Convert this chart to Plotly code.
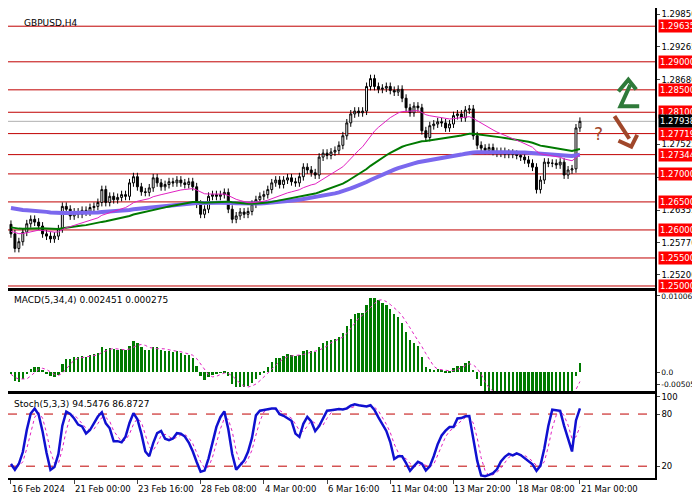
import numpy as np
import pandas as pd
import plotly.graph_objects as go

closes = [1.2593,1.2567,1.2579,1.2596,1.2611,1.2619,1.2614,1.2607,1.2593,1.2589,
1.2584,1.2589,1.2602,1.2642,1.2637,1.2625,1.2632,1.2628,1.2635,1.2632,
1.2640,1.2642,1.2649,1.2672,1.2649,1.2660,1.2654,1.2658,1.2663,1.2660,
1.2684,1.2695,1.2677,1.2668,1.2667,1.2675,1.2693,1.2684,1.2677,1.2681,
1.2686,1.2684,1.2689,1.2684,1.2681,1.2686,1.2677,1.2646,1.2628,1.2637,
1.2660,1.2663,1.2660,1.2663,1.2667,1.2637,1.2619,1.2625,1.2632,1.2628,
1.2633,1.2646,1.2654,1.2660,1.2663,1.2672,1.2684,1.2689,1.2681,1.2689,
1.2693,1.2686,1.2684,1.2695,1.2712,1.2707,1.2702,1.2698,1.2730,1.2737,
1.2733,1.2739,1.2742,1.2751,1.2768,1.2791,1.2807,1.2812,1.2809,1.2812,
1.2856,1.2870,1.2856,1.2851,1.2853,1.2856,1.2849,1.2846,1.2851,1.2835,
1.2818,1.2809,1.2821,1.2818,1.2777,1.2765,1.2786,1.2789,1.2793,1.2791,
1.2782,1.2789,1.2804,1.2807,1.2800,1.2814,1.2816,1.2768,1.2751,1.2746,
1.2742,1.2747,1.2740,1.2737,1.2740,1.2735,1.2737,1.2735,1.2733,1.2730,
1.2725,1.2719,1.2712,1.2672,1.2689,1.2721,1.2719,1.2719,1.2716,1.2721,
1.2698,1.2707,1.2709,1.2782,1.27938]
first_open = 1.2610
wick_up = 0.0007
wick_dn = 0.0007
levels = [1.29635,1.29000,1.28500,1.28100,1.27719,1.27344,1.27000,1.26500,1.26000,1.25500,1.25000]
price_ticks = [1.29850,1.29265,1.28680,1.27525,1.26940,1.26355,1.25770,1.25200]
current = 1.27938
date_idx = [0,16,32,48,64,80,96,112,128,144]
date_labels = ["16 Feb 2024","21 Feb 00:00","23 Feb 16:00","28 Feb 08:00","4 Mar 00:00",
               "6 Mar 16:00","11 Mar 04:00","13 Mar 20:00","18 Mar 08:00","21 Mar 00:00"]

n = len(closes)
x = list(range(n))
c = pd.Series(closes)
o = pd.Series([first_open] + closes[:-1])
h = np.maximum(o, c) + wick_up
l = np.minimum(o, c) - wick_dn

seed_g = pd.concat([pd.Series([1.2605]*30), c]).ewm(span=55, adjust=False).mean()[30:].reset_index(drop=True)
seed_b = pd.concat([pd.Series([1.2640]*60), c]).ewm(span=100, adjust=False).mean()[60:].reset_index(drop=True)
ma_pink = pd.concat([pd.Series([1.2598]*15), c]).ewm(span=21, adjust=False).mean()[15:].reset_index(drop=True)

cc = pd.concat([pd.Series([1.2600]*40), c])
macd = (cc.ewm(span=5, adjust=False).mean() - cc.ewm(span=34, adjust=False).mean())[40:].reset_index(drop=True)
sig = macd.rolling(4, min_periods=1).mean()

hh = pd.Series(h).rolling(5, min_periods=1).max()
ll = pd.Series(l).rolling(5, min_periods=1).min()
num = (c - ll).rolling(3, min_periods=1).sum()
den = (hh - ll).rolling(3, min_periods=1).sum()
k = 100 * num / den
d = k.rolling(3, min_periods=1).mean()

fig = go.Figure()
fig.add_trace(go.Candlestick(x=x, open=o, high=h, low=l, close=c,
    increasing=dict(line=dict(color="black", width=1), fillcolor="white"),
    decreasing=dict(line=dict(color="black", width=1), fillcolor="black"),
    whiskerwidth=0, xaxis="x", yaxis="y", showlegend=False))
fig.add_trace(go.Scatter(x=x, y=seed_b, line=dict(color="#7b68ee", width=4), xaxis="x", yaxis="y", showlegend=False))
fig.add_trace(go.Scatter(x=x, y=seed_g, line=dict(color="#007a00", width=2), xaxis="x", yaxis="y", showlegend=False))
fig.add_trace(go.Scatter(x=x, y=ma_pink, line=dict(color="#e020c0", width=1), xaxis="x", yaxis="y", showlegend=False))
fig.add_trace(go.Bar(x=x, y=macd, marker=dict(color="#007a00", line=dict(width=0)), width=0.6, xaxis="x2", yaxis="y2", showlegend=False))
fig.add_trace(go.Scatter(x=x, y=sig, line=dict(color="#e020c0", width=1, dash="dot"), xaxis="x2", yaxis="y2", showlegend=False))
fig.add_trace(go.Scatter(x=x, y=d, line=dict(color="#e020c0", width=1, dash="dot"), xaxis="x3", yaxis="y3", showlegend=False))
fig.add_trace(go.Scatter(x=x, y=k, line=dict(color="#1010d0", width=2.5), xaxis="x3", yaxis="y3", showlegend=False))

xr = [-0.75, 163]
H = 478.0
def py(p): return (H - p) / H
ax = dict(range=xr, showgrid=False, zeroline=False, showline=True, linecolor="black", mirror=True,
          linewidth=1.5, automargin=False, showticklabels=False)
yax = dict(side="right", showgrid=False, zeroline=False, showline=True, linecolor="black", mirror=True,
           linewidth=1.5, ticks="outside", ticklen=3, automargin=False, tickfont=dict(size=8.5))
fig.update_layout(
    width=692, height=492, autosize=False, margin=dict(l=0, r=45, t=0, b=22),
    paper_bgcolor="white", plot_bgcolor="white", bargap=0,
    font=dict(family="DejaVu Sans", size=9, color="black"),
    xaxis=dict(ax, domain=[0,1], anchor="y", rangeslider=dict(visible=False)),
    xaxis2=dict(ax, domain=[0,1], anchor="y2", matches="x"),
    xaxis3=dict(ax, domain=[0,1], anchor="y3", tickvals=date_idx, ticks="outside", ticklen=4, matches="x"),
    yaxis=dict(yax, domain=[py(285), 1], range=[1.2496, 1.2996],
               tickvals=price_ticks, ticktext=[f"{v:.5f}" for v in price_ticks]),
    yaxis2=dict(yax, domain=[py(390), py(288)], range=[-0.0024, 0.0104], tickfont=dict(size=7.5),
                tickvals=[0.0098, 0.0, -0.0015], ticktext=["0.010069", "0.0", "-0.005051"]),
    yaxis3=dict(yax, domain=[0, py(393)], range=[6.4, 102.6],
                tickvals=[100, 80, 20], ticktext=["100", "80", "20"]),
)
for i, lab in zip(date_idx, date_labels):
    fig.add_annotation(xref="x3", yref="paper", x=i - 0.3, y=-0.008, xanchor="left", yanchor="top",
                       text=lab, showarrow=False, font=dict(size=8.5))
for lv in levels:
    fig.add_shape(type="line", xref="x domain", yref="y", x0=0, x1=1, y0=lv, y1=lv, line=dict(color="#c00000", width=1), layer="below")
    fig.add_annotation(xref="paper", yref="y", x=1.004, y=lv, xanchor="left", text=f"{lv:.5f}", showarrow=False,
                       bgcolor="#ff0000", font=dict(color="white", size=8.5), borderpad=1)
fig.add_shape(type="line", xref="x domain", yref="y", x0=0, x1=1, y0=current, y1=current, line=dict(color="#b0b0b0", width=1), layer="below")
fig.add_annotation(xref="paper", yref="y", x=1.004, y=current, xanchor="left", text=f"{current:.5f}", showarrow=False,
                   bgcolor="black", font=dict(color="white", size=8.5), borderpad=1)
for lv in [80, 20]:
    fig.add_shape(type="line", xref="x3 domain", yref="y3", x0=0, x1=1, y0=lv, y1=lv, line=dict(color="#c00000", width=1, dash="dash"), layer="below")

fig.add_annotation(xref="paper", yref="paper", x=14/655, y=py(8), xanchor="left", text="GBPUSD,H4", showarrow=False, font=dict(size=9))
fig.add_annotation(xref="paper", yref="paper", x=4/655, y=py(290), xanchor="left", yanchor="top", text="MACD(5,34,4) 0.002451 0.000275", showarrow=False, font=dict(size=9))
fig.add_annotation(xref="paper", yref="paper", x=4/655, y=py(396), xanchor="left", yanchor="top", text="Stoch(5,3,3) 94.5476 86.8727", showarrow=False, font=dict(size=9))

def pth(pts):
    return "M " + " L ".join(f"{px/655:.4f},{py(pp):.4f}" for px, pp in pts)
green = "#2f7a3a"
fig.add_shape(type="path", xref="paper", yref="paper", path=pth([(639,100),(620,100),(630,78)]), line=dict(color=green, width=4))
fig.add_shape(type="path", xref="paper", yref="paper", path=pth([(618,85),(628,73),(636,83)]), line=dict(color=green, width=4))
brown = "#a0472a"
fig.add_shape(type="path", xref="paper", yref="paper", path=pth([(614,110),(629,133)]), line=dict(color=brown, width=4))
fig.add_shape(type="path", xref="paper", yref="paper", path=pth([(618,135),(631,141),(637,129)]), line=dict(color=brown, width=4))
fig.add_annotation(xref="paper", yref="paper", x=604/655, y=py(116), text="?", showarrow=False,
                   font=dict(size=17, color=brown, family="DejaVu Sans"))

fig.write_html("out.html")
